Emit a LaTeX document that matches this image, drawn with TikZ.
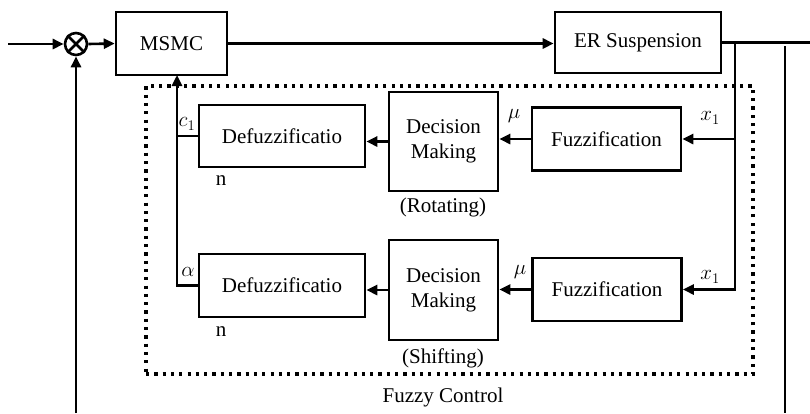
\RequirePackage{fix-cm}
\documentclass[tikz,border=0pt]{standalone}
\usepackage{fontspec}
\setmainfont{Liberation Serif}
\usetikzlibrary{arrows.meta}
\begin{document}
\begin{tikzpicture}[x=1pt,y=-1pt,
  font=\fontsize{21}{25}\selectfont,
  box/.style={draw,line width=2.6pt,inner sep=0pt,align=center},
  arr/.style={line width=2.6pt,-{Triangle[length=11pt,width=10pt]}},
  ln/.style={line width=2.6pt},
  lbl/.style={inner sep=0pt}]
\useasboundingbox (0,0) rectangle (810,413);
% blocks
\node[box,minimum width=111pt,minimum height=63pt] (msmc) at (171.5,43.5) {MSMC};
\node[box,minimum width=166pt,minimum height=61pt] (er) at (638,42.5) {ER Suspension};
\node[box,minimum width=166pt,minimum height=62pt] (def1) at (282,136) {Defuzzificatio};
\node[box,minimum width=109pt,minimum height=99pt] (dm1) at (443.5,141.5) {Decision\\Making};
\node[box,minimum width=149pt,minimum height=63pt] (fuz1) at (606.5,139) {Fuzzification};
\node[box,minimum width=166pt,minimum height=63pt] (def2) at (282,285.5) {Defuzzificatio};
\node[box,minimum width=109pt,minimum height=100pt] (dm2) at (443.5,290) {Decision\\Making};
\node[box,minimum width=149pt,minimum height=63pt] (fuz2) at (607,289.5) {Fuzzification};
% summing junction
\node[draw,circle,line width=2.6pt,minimum size=22pt,inner sep=0pt] (sum) at (76,44) {};
\draw[ln] (sum.north west) -- (sum.south east) (sum.north east) -- (sum.south west);
% coordinates
\coordinate (in) at (8,44);
\coordinate (fb) at (76,413);
\coordinate (out) at (810,42.5);
\coordinate (br) at (735,42.5);
\coordinate (r1) at (785,46);
\coordinate (r2) at (785,413);
\coordinate (cj) at (177,75);
% connectors
\draw[arr] (in) -- (sum.west);
\draw[arr] (fb) -- (sum.south);
\draw[arr] (sum.east) -- (msmc.west);
\draw[arr] (msmc.east) -- (msmc.east -| er.west);
\draw[ln] (er.east) -- (out);
\draw[arr] (br) |- (fuz2.east);
\draw[arr] (br |- fuz1.east) -- (fuz1.east);
\draw[ln] (r1) -- (r2);
\draw[arr] (fuz1.west) -- (fuz1.west -| dm1.east);
\draw[arr] (dm1.west) -- (dm1.west -| def1.east);
\draw[arr] (fuz2.west) -- (fuz2.west -| dm2.east);
\draw[arr] (dm2.west) -- (dm2.west -| def2.east);
\draw[arr] (def2.west) -| (cj);
\draw[ln] (def1.west) -- (def1.west -| cj);
% dotted fuzzy control frame
\node[draw,line width=3.2pt,dash pattern=on 3.2pt off 5.1pt,minimum width=607pt,minimum height=288pt,inner sep=0pt] (fc) at (449.5,230) {};
% labels
\node[lbl] (lc1) at (187,124) {$c_1$};
\node[lbl] (lal) at (188,272) {$\alpha$};
\node[lbl] (lmu1) at (514,116) {$\mu$};
\node[lbl] (lmu2) at (520,272) {$\mu$};
\node[lbl] (lx1) at (710,118) {$x_1$};
\node[lbl] (lx2) at (710,277) {$x_1$};
\node[lbl] (n1) at (221,181) {n};
\node[lbl] (n2) at (221,332) {n};
\node[lbl] (rot) at (443,207) {(Rotating)};
\node[lbl] (shi) at (443,358) {(Shifting)};
\node[lbl] (fzc) at (443,397) {Fuzzy Control};
\end{tikzpicture}
\end{document}
